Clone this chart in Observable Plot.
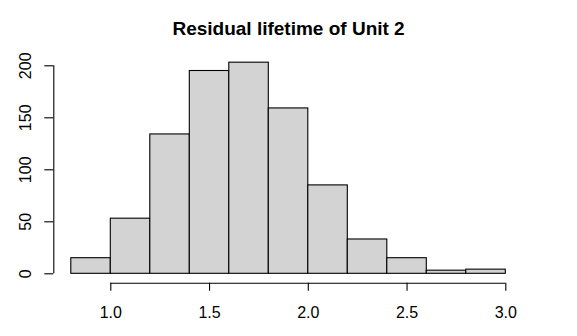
<!DOCTYPE html>
<html><head><meta charset="utf-8">
<script src="https://cdn.jsdelivr.net/npm/d3@7"></script>
<script src="https://cdn.jsdelivr.net/npm/@observablehq/plot@0.6"></script>
<style>
body{margin:0;background:#fff;}
#chart{width:577px;height:336px;}
</style></head><body><div id="chart"></div>
<script>
const binStarts = [0.8, 1.0, 1.2, 1.4, 1.6, 1.8, 2.0, 2.2, 2.4, 2.6, 2.8];
const binEnds   = [1.0, 1.2, 1.4, 1.6, 1.8, 2.0, 2.2, 2.4, 2.6, 2.8, 3.0];
const counts    = [15, 53, 134, 195, 203, 159, 85, 33, 15, 3, 4];
const xTicks = [1.0, 1.5, 2.0, 2.5, 3.0];
const yTicks = [0, 50, 100, 150, 200];
const title = "Residual lifetime of Unit 2";

const bins = counts.map((c, i) => ({x1: binStarts[i], x2: binEnds[i], count: c}));
const font = "'Liberation Sans', Arial, sans-serif";

const chart = Plot.plot({
  width: 577,
  height: 336,
  marginLeft: 70.8,
  marginRight: 71.7,
  marginTop: 65.3,
  marginBottom: 62.7,
  style: {fontFamily: font, fontSize: "16px", color: "black", background: "white"},
  x: {domain: [binStarts[0], binEnds[binEnds.length - 1]]},
  y: {domain: [yTicks[0], yTicks[yTicks.length - 1]]},
  marks: [
    Plot.rect(bins, {x1: "x1", x2: "x2", y1: 0, y2: "count", fill: "#d3d3d3", stroke: "black", strokeWidth: 1.1}),
    Plot.ruleY([0], {x1: xTicks[0], x2: xTicks[xTicks.length - 1], dy: 9.4, stroke: "black", strokeWidth: 1.1}),
    Plot.axisX(xTicks, {tickSize: 8, dy: 9.4, tickPadding: 15, fontSize: 16, stroke: "black", fill: "black", strokeWidth: 1.1, label: null}),
    Plot.ruleX([binStarts[0]], {y1: yTicks[0], y2: yTicks[yTicks.length - 1], dx: -17.5, stroke: "black", strokeWidth: 1.1}),
    Plot.axisY(yTicks, {tickSize: 9, dx: -17.5, tickFormat: () => "", stroke: "black", strokeWidth: 1.1, label: null}),
    Plot.text(yTicks, {y: d => d, text: d => String(d), frameAnchor: "left", dx: -40, rotate: -90, textAnchor: "middle", lineAnchor: "bottom", fontSize: 16, fill: "black"}),
    Plot.text([title], {frameAnchor: "top", dy: -31.3, lineAnchor: "bottom", text: d => d, fontSize: 19, fontWeight: "bold", fill: "black"})
  ]
});
document.getElementById("chart").appendChild(chart);
</script></body></html>
